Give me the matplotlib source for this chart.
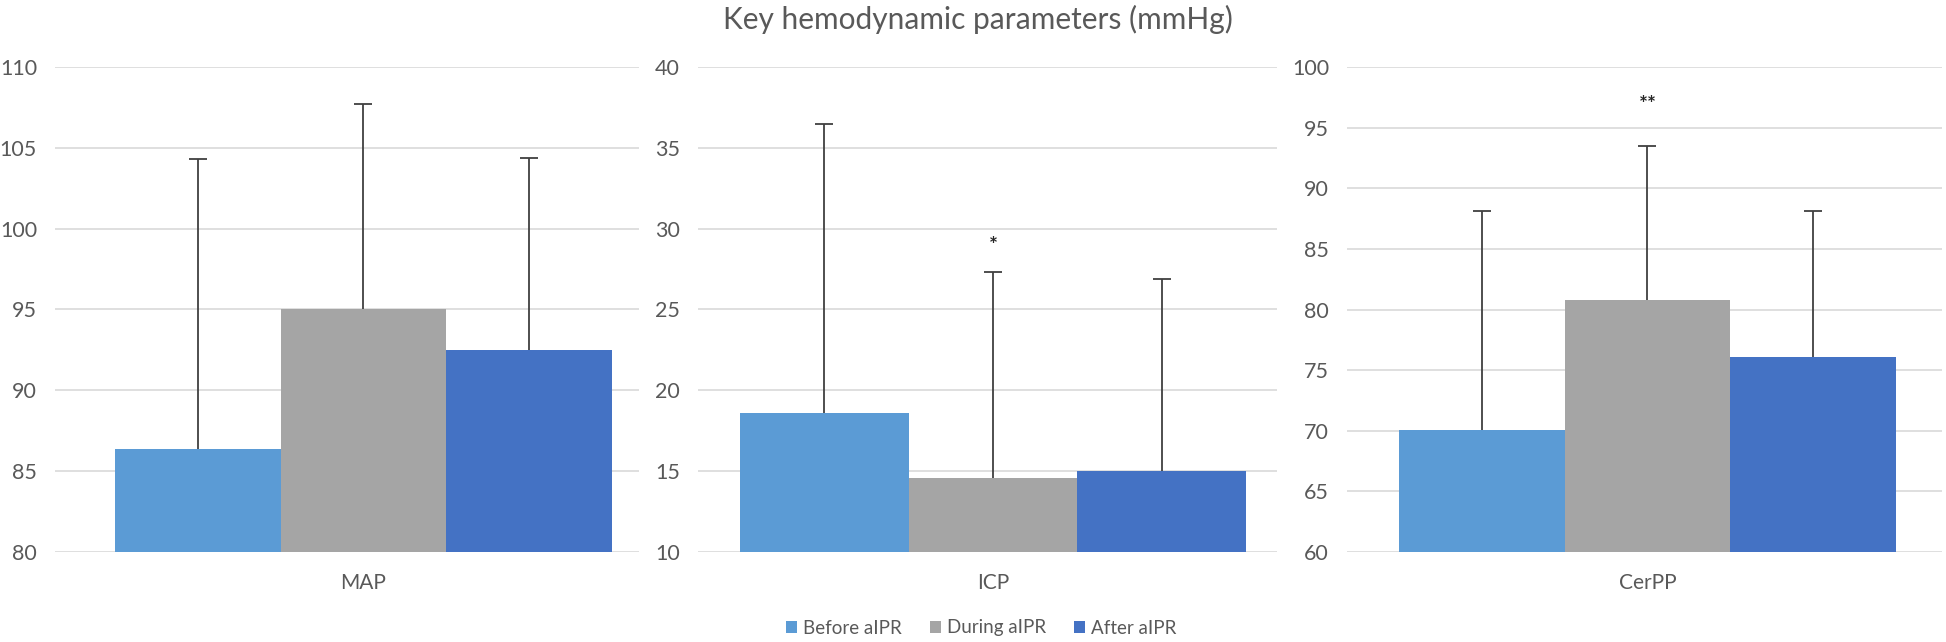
import numpy as np
import matplotlib
matplotlib.use("Agg")
import matplotlib.pyplot as plt
from matplotlib.patches import Patch

# Key hemodynamic parameters, mean and SD (upper error bars only)
phases = ["Before aIPR", "During aIPR", "After aIPR"]
colors = ["#5B9BD5", "#A5A5A5", "#4472C4"]

map_mean = [86.4, 95.0, 92.5]
map_sd = [17.9, 12.7, 11.9]

icp_mean = [18.6, 14.6, 15.0]
icp_sd = [17.9, 12.7, 11.9]

cerpp_mean = [70.1, 80.8, 76.1]
cerpp_sd = [18.0, 12.7, 12.0]

panels = [
    ("MAP", map_mean, map_sd, (80, 110), None, None),
    ("ICP", icp_mean, icp_sd, (10, 40), "*", 28.9),
    ("CerPP", cerpp_mean, cerpp_sd, (60, 100), "**", 96.9),
]

# axes placement in pixels (left, right) and x-limits so bars line up
W, H = 1946, 642
ax_px = [(55, 639), (698, 1277), (1347, 1942)]
xlims = [(-1.862, 1.663), (-1.749, 1.684), (-1.814, 1.778)]
top_px, bot_px = 67, 552

plt.rcParams["font.family"] = ["Lato", "DejaVu Sans"]
text_gray = "#595959"
err_color = "#404040"

fig = plt.figure(figsize=(W / 100, H / 100), dpi=100)

for (name, means, sds, ylim, star, star_y), (l, r), xl in zip(panels, ax_px, xlims):
    ax = fig.add_axes([l / W, 1 - bot_px / H, (r - l) / W, (bot_px - top_px) / H])
    x = np.array([-1, 0, 1])
    means = np.array(means)
    sds = np.array(sds)
    ax.bar(x, means, width=1.0, color=colors, zorder=2)
    # plus-direction error bars only, cap at the top
    ax.errorbar(x, means, yerr=[np.zeros(3), sds], fmt="none",
                ecolor=err_color, elinewidth=1.3, capsize=0, zorder=3)
    ax.plot(x, means + sds, linestyle="none", marker="_", markersize=13,
            markeredgewidth=1.3, color=err_color, zorder=3)
    ax.set_ylim(*ylim)
    ax.set_xlim(*xl)
    ax.set_yticks(np.arange(ylim[0], ylim[1] + 1, 5))
    ax.set_xticks([0])
    ax.set_xticklabels([name], fontsize=15)
    ax.grid(axis="y", color="#D9D9D9", linewidth=1.2, zorder=0)
    ax.set_axisbelow(True)
    for s in ax.spines.values():
        s.set_visible(False)
    ax.tick_params(axis="both", length=0, labelcolor=text_gray)
    ax.tick_params(axis="y", pad=13, labelsize=15.5)
    ax.tick_params(axis="x", pad=15)
    if star:
        ax.text(0, star_y, star, ha="center", va="center", fontsize=15,
                fontweight="bold", color="#262626")

fig.text(978 / W, 1 - 19 / H, "Key hemodynamic parameters (mmHg)",
         ha="center", va="center", fontsize=21.5, color=text_gray)

handles = [Patch(facecolor=c, edgecolor="none") for c in colors]
fig.legend(handles, phases, loc="center", bbox_to_anchor=(981 / W, 1 - 628 / H),
           ncol=3, frameon=False, fontsize=13.5, labelcolor=text_gray,
           handlelength=0.6, handleheight=0.6, handletextpad=0.3, columnspacing=1.5)

fig.savefig("out.png", dpi=100)
